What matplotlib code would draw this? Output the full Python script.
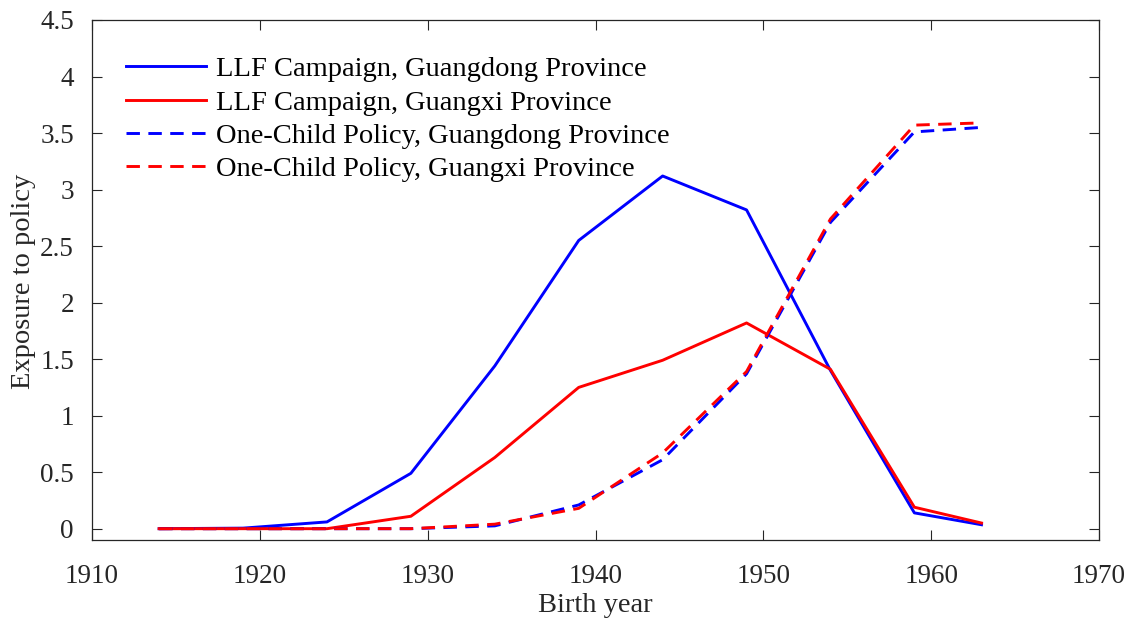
import matplotlib
matplotlib.use("Agg")
import matplotlib.pyplot as plt

years = [1914, 1919, 1924, 1929, 1934, 1939, 1944, 1949, 1954, 1959, 1963]
llf_guangdong = [0.0, 0.005, 0.06, 0.49, 1.44, 2.55, 3.12, 2.82, 1.40, 0.14, 0.035]
llf_guangxi = [0.0, 0.0, 0.0, 0.11, 0.63, 1.25, 1.49, 1.82, 1.41, 0.19, 0.05]
ocp_guangdong = [0.0, 0.0, 0.0, 0.0, 0.025, 0.21, 0.61, 1.37, 2.71, 3.51, 3.55]
ocp_guangxi = [0.0, 0.0, 0.0, 0.0, 0.04, 0.18, 0.67, 1.39, 2.74, 3.57, 3.59]

labels = ["LLF Campaign, Guangdong Province",
          "LLF Campaign, Guangxi Province",
          "One-Child Policy, Guangdong Province",
          "One-Child Policy, Guangxi Province"]
xticks = [1910, 1920, 1930, 1940, 1950, 1960, 1970]
yticks = [0, 0.5, 1, 1.5, 2, 2.5, 3, 3.5, 4, 4.5]
ytick_labels = ["0", "0.5", "1", "1.5", "2", "2.5", "3", "3.5", "4", "4.5"]

plt.rcParams['font.family'] = ['Liberation Serif', 'DejaVu Serif']

fig = plt.figure(figsize=(11.29, 6.19), dpi=100)
ax = fig.add_axes([92/1129, (619-540)/619, (1099-92)/1129, (540-20)/619])

lw = 2.1
dash = (0, (4.6, 2.9))
ax.plot(years, llf_guangdong, color='#0000ff', lw=lw, label=labels[0])
ax.plot(years, llf_guangxi, color='#ff0000', lw=lw, label=labels[1])
ax.plot(years, ocp_guangdong, color='#0000ff', lw=lw, ls=dash, label=labels[2])
ax.plot(years, ocp_guangxi, color='#ff0000', lw=lw, ls=dash, label=labels[3])

ax.set_xlim(1910, 1970)
ax.set_ylim(-0.1, 4.5)
ax.set_xticks(xticks)
ax.set_xticklabels([str(x) for x in xticks])
ax.set_yticks(yticks)
ax.set_yticklabels(ytick_labels)

for s in ax.spines.values():
    s.set_color('#262626')
    s.set_linewidth(0.9)
ax.tick_params(direction='in', length=7, width=0.8, color='#262626',
               labelsize=19.5, labelcolor='#262626', top=True, right=True)
ax.tick_params(axis='x', pad=17)
ax.tick_params(axis='y', pad=13)

ax.set_xlabel('Birth year', fontsize=20.5, color='#262626')
ax.set_ylabel('Exposure to policy', fontsize=20.5, color='#262626')
ax.yaxis.set_label_coords((24 - 92) / (1099 - 92), (619 - 281 - 79) / (540 - 20))
ax.xaxis.set_label_coords(0.5, -(606 - 540) / (540 - 20))
ax.xaxis.label.set_va('center')
ax.yaxis.label.set_va('center')

leg = ax.legend(loc='upper left', frameon=False, fontsize=20.5,
                handlelength=2.8, handletextpad=0.35, labelspacing=0.26,
                bbox_to_anchor=(0.017, 0.963), borderaxespad=0.2)

fig.savefig('out.png', dpi=100)
